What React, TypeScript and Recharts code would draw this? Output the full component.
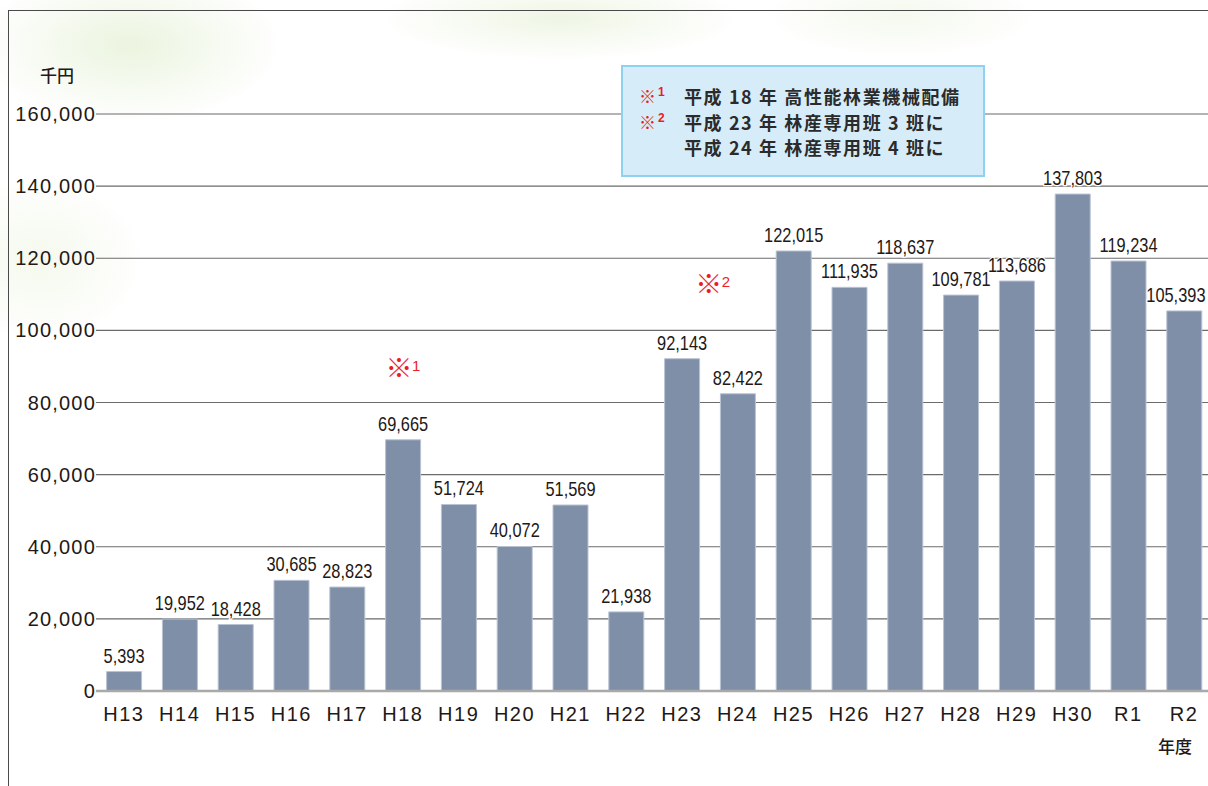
import React from "react";
import {
  BarChart,
  Bar,
  XAxis,
  YAxis,
  CartesianGrid,
  LabelList,
  ReferenceDot,
} from "recharts";

const years = [
  "H13", "H14", "H15", "H16", "H17", "H18", "H19", "H20", "H21", "H22",
  "H23", "H24", "H25", "H26", "H27", "H28", "H29", "H30", "R1", "R2",
];

const amounts = [
  5393, 19952, 18428, 30685, 28823, 69665, 51724, 40072, 51569, 21938,
  92143, 82422, 122015, 111935, 118637, 109781, 113686, 137803, 119234, 105393,
];

const yTicks = [0, 20000, 40000, 60000, 80000, 100000, 120000, 140000, 160000];

// notes marked on the chart (※1, ※2)
const notes = [
  { year: "H18", value: 89300, mark: "1", dx: -4 },
  { year: "H24", value: 112600, mark: "2", dx: -29 },
];

const legendLines = [
  { mark: "1", text: "平成 18 年 高性能林業機械配備" },
  { mark: "2", text: "平成 23 年 林産専用班 3 班に" },
  { mark: "", text: "平成 24 年 林産専用班 4 班に" },
];

const data = years.map((year, i) => ({ year, amount: amounts[i] }));

const fmt = (v: number) => v.toLocaleString("en-US");

const RED = "#ec1c24";

const NoteMark = (props: any) => {
  const { viewBox, mark, dx } = props;
  const cx = viewBox.x + viewBox.width / 2 + dx;
  const cy = viewBox.y + viewBox.height / 2;
  return (
    <g>
      <text x={cx} y={cy + 9} textAnchor="middle" fill={RED} fontSize={27} fontFamily="'Noto Sans CJK JP', sans-serif">
        ※
      </text>
      <text x={cx + 13} y={cy + 2} fill={RED} fontSize={15} fontFamily="'Liberation Sans', Arial, sans-serif">
        {mark}
      </text>
    </g>
  );
};

// condensed value label above each bar
const ValueLabel = (props: any) => {
  const { x, y, width, value } = props;
  const txt = fmt(Number(value));
  const w = txt.length * 8.6;
  let cx = x + width / 2;
  if (cx + w / 2 > 1206) cx = 1206 - w / 2;
  return (
    <text
      transform={`translate(${cx}, ${y - 9}) scale(0.82, 1)`}
      textAnchor="middle"
      fill="#231815"
      fontSize={20}
      fontFamily="'Liberation Sans', Arial, sans-serif"
      style={{ paintOrder: "stroke", stroke: "#ffffff", strokeWidth: 2.5 }}
    >
      {txt}
    </text>
  );
};

const App: React.FC = () => {
  return (
    <div
      style={{
        position: "fixed",
        left: 0,
        top: 0,
        width: 1208,
        height: 786,
        overflow: "hidden",
        background:
          "radial-gradient(ellipse 220px 110px at 130px 45px, rgba(205,228,175,0.4), rgba(255,255,255,0) 70%)," +
          "radial-gradient(ellipse 260px 60px at 560px 18px, rgba(218,234,195,0.45), rgba(255,255,255,0) 70%)," +
          "radial-gradient(ellipse 150px 120px at 40px 260px, rgba(228,240,210,0.4), rgba(255,255,255,0) 70%)," +
          "radial-gradient(ellipse 200px 60px at 900px 15px, rgba(228,240,212,0.4), rgba(255,255,255,0) 70%)," +
          "#ffffff",
      }}
    >
      {/* frame */}
      <div
        style={{
          position: "absolute",
          left: 8,
          top: 10,
          width: 1300,
          height: 900,
          borderLeft: "1.5px solid #4a4a4a",
          borderTop: "1.5px solid #4a4a4a",
        }}
      />
      <div
        style={{
          position: "absolute",
          left: 40,
          top: 62,
          fontSize: 17,
          fontWeight: 500,
          color: "#231815",
          fontFamily: "'Noto Sans CJK JP', sans-serif",
        }}
      >
        千円
      </div>
      <div
        style={{
          position: "absolute",
          left: 1158,
          top: 733,
          fontSize: 17,
          fontWeight: 500,
          color: "#231815",
          fontFamily: "'Noto Sans CJK JP', sans-serif",
        }}
      >
        年度
      </div>

      <div style={{ position: "absolute", left: 0, top: 0 }}>
        <BarChart
          width={1212}
          height={786}
          data={data}
          margin={{ top: 114, right: 0, bottom: 65, left: 0 }}
          barCategoryGap="19%"
        >
          <CartesianGrid vertical={false} stroke="#6b6b6b" strokeWidth={1.2} />
          <XAxis
            dataKey="year"
            height={30}
            tickLine={false}
            axisLine={{ stroke: "#a9a9a9", strokeWidth: 2.5 }}
            interval={0}
            tickMargin={10}
            tick={{
              fill: "#231815",
              fontSize: 20,
              letterSpacing: 1.5,
              fontFamily: "'Liberation Sans', Arial, sans-serif",
            }}
          />
          <YAxis
            width={96}
            domain={[0, 160000]}
            ticks={yTicks}
            interval={0}
            axisLine={false}
            tickLine={false}
            tickMargin={0}
            tickSize={0}
            tickFormatter={fmt}
            tick={{
              fill: "#231815",
              fontSize: 20,
              letterSpacing: 1.2,
              fontFamily: "'Liberation Sans', Arial, sans-serif",
            }}
          />
          <Bar
            dataKey="amount"
            fill="#7f8fa8"
            stroke="#b9c3d3"
            strokeWidth={1}
            isAnimationActive={false}
          >
            <LabelList dataKey="amount" content={<ValueLabel />} />
          </Bar>
          {notes.map((n) => (
            <ReferenceDot
              key={n.mark}
              x={n.year}
              y={n.value}
              r={0}
              stroke="none"
              fill="none"
              ifOverflow="visible"
              label={(p: any) => <NoteMark {...p} mark={n.mark} dx={n.dx} />}
            />
          ))}
        </BarChart>
      </div>

      {/* note box */}
      <div
        style={{
          position: "absolute",
          left: 621,
          top: 65,
          width: 364,
          height: 112,
          background: "#d6edf9",
          border: "2px solid #8dd2f1",
          fontFamily: "'Noto Sans CJK JP', sans-serif",
          fontWeight: 700,
          fontSize: 18,
          letterSpacing: 1.6,
          color: "#2b2b2b",
          paddingTop: 17,
          paddingLeft: 61,
          boxSizing: "border-box",
        }}
      >
        <svg
          width={60}
          height={108}
          style={{ position: "absolute", left: 0, top: 0, overflow: "visible" }}
        >
          {legendLines.map((l, i) =>
            l.mark ? (
              <g key={i}>
                <text x={16} y={36 + i * 25.5} fill={RED} fontSize={17} fontFamily="'Noto Sans CJK JP', sans-serif">
                  ※
                </text>
                <text x={35} y={29 + i * 25.5} fill={RED} fontSize={12} fontFamily="'Liberation Sans', Arial, sans-serif">
                  {l.mark}
                </text>
              </g>
            ) : null
          )}
        </svg>
        {legendLines.map((l, i) => (
          <div key={i} style={{ height: 25.5, lineHeight: "25.5px", whiteSpace: "nowrap" }}>
            {l.text}
          </div>
        ))}
      </div>
    </div>
  );
};

export default App;
